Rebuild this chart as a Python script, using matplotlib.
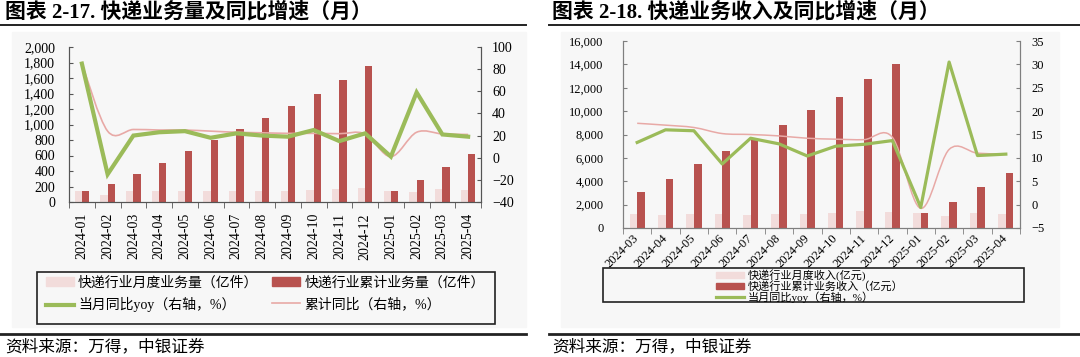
"""Express delivery volume / revenue by month with YoY growth (two panels)."""

import matplotlib.pyplot as plt
import numpy as np
from matplotlib.lines import Line2D
from matplotlib.patches import Patch, PathPatch, Rectangle
from matplotlib.path import Path
from matplotlib.ticker import FuncFormatter

plt.rcParams["font.family"] = ["Liberation Serif", "Noto Sans CJK SC"]

# ---- panel 1: business volume (亿件), YoY (%)
VOL_MONTHS = ["2024-01", "2024-02", "2024-03", "2024-04", "2024-05", "2024-06",
              "2024-07", "2024-08", "2024-09", "2024-10", "2024-11", "2024-12",
              "2025-01", "2025-02", "2025-03", "2025-04"]
VOL_MONTHLY = [147, 92, 137, 137, 148, 147, 147, 148, 148, 160, 172, 180, 143, 133, 172, 160]
VOL_CUMULATIVE = [147, 226, 366, 507, 658, 800, 946, 1088, 1239, 1398, 1574, 1750, 143, 284, 456, 615]
VOL_YOY = [85, -15, 20, 23, 24, 18, 22, 20, 19, 25, 15, 22, 1, 59, 21, 19]
VOL_CUM_YOY = [85, 24, 25.5, 25, 25, 24, 23, 22.5, 22, 22, 21.7, 21.5, 1, 23, 21.5, 21]

# ---- panel 2: business revenue (亿元), YoY (%)
REV_MONTHS = ["2024-03", "2024-04", "2024-05", "2024-06", "2024-07", "2024-08",
              "2024-09", "2024-10", "2024-11", "2024-12", "2025-01", "2025-02",
              "2025-03", "2025-04"]
REV_MONTHLY = [1183, 1127, 1183, 1183, 1127, 1183, 1211, 1268, 1465, 1380, 1268, 1014, 1268, 1183]
REV_CUMULATIVE = [3107, 4209, 5452, 6582, 7650, 8814, 10056, 11243, 12740, 14068, 1270, 2203, 3475, 4718]
REV_YOY = [13.3, 16.0, 15.8, 8.7, 14.2, 13.0, 10.4, 12.5, 12.9, 13.7, -0.6, 30.5, 10.5, 10.8]
REV_CUM_YOY = [17.4, 17.0, 16.5, 15.2, 15.0, 14.7, 14.2, 14.0, 13.9, 14.4, -0.8, 11.8, 11.0, 10.8]

RED = "#b8524f"
LIGHT = "#f2dcdb"
GREEN = "#9bbb59"
PINK = "#e8a9a6"
BG = "#f7f7f7"
INK = "#222222"

W, H = 1080, 357


def fbox(x0, y0, x1, y1):
    """Pixel box (top-left origin) -> figure-fraction rect."""
    return [x0 / W, 1 - y1 / H, (x1 - x0) / W, (y1 - y0) / H]


def smooth_line(ax, x, y, **kw):
    # Excel-style smoothed line: cubic Bezier segments through the data points
    pts = np.column_stack([x, y]).astype(float)
    n = len(pts)
    verts, codes = [pts[0]], [Path.MOVETO]
    for i in range(n - 1):
        p0, p1 = pts[max(i - 1, 0)], pts[i]
        p2, p3 = pts[i + 1], pts[min(i + 2, n - 1)]
        verts += [p1 + (p2 - p0) / 6, p2 - (p3 - p1) / 6, p2]
        codes += [Path.CURVE4] * 3
    ax.add_patch(PathPatch(Path(verts, codes), fill=False, **kw))


def style(ax, ax2, n, spine, size, lpad, rpad):
    ax.set_xlim(-0.5, n - 0.5)
    ax.set_xticks(np.arange(-0.5, n), minor=True)
    ax.tick_params(axis="x", which="major", length=0)
    ax.tick_params(axis="x", which="minor", length=4, direction="out", color=spine)
    ax.tick_params(axis="y", direction="in", length=3, color=spine, labelsize=size, pad=lpad)
    ax2.tick_params(axis="y", direction="in", length=3, color=spine, labelsize=size, pad=rpad)
    ax.patch.set_visible(False)
    for a in (ax, ax2):
        a.spines["top"].set_visible(False)
        for s in a.spines.values():
            s.set_color(spine)
    ax.yaxis.set_major_formatter(FuncFormatter(lambda v, _: f"{v:,.0f}"))


def draw_volume(fig):
    ax = fig.add_axes(fbox(69, 47, 481, 202))
    ax2 = ax.twinx()
    x = np.arange(len(VOL_MONTHS))
    w = 0.28
    ax.bar(x - w / 2, VOL_MONTHLY, w, color=LIGHT, linewidth=0)
    ax.bar(x + w / 2, VOL_CUMULATIVE, w, color=RED, linewidth=0)
    ax2.plot(x, VOL_YOY, color=GREEN, linewidth=3.0, solid_joinstyle="miter", zorder=3)
    smooth_line(ax2, x, VOL_CUM_YOY, edgecolor=PINK, linewidth=1.2, zorder=2)

    ax.set_ylim(0, 2000)
    ax.set_yticks(range(0, 2001, 200))
    ax2.set_ylim(-40, 100)
    ax2.set_yticks(range(-40, 101, 20))
    ax.set_xticks(x, VOL_MONTHS, rotation=90, fontsize=10)
    ax.tick_params(axis="x", which="major", pad=8)
    style(ax, ax2, len(x), "#555555", 10, 10, 8)

    handles = [
        Patch(color=LIGHT, label="快递行业月度业务量（亿件）"),
        Line2D([], [], color=GREEN, linewidth=3, label="当月同比yoy（右轴，%）"),
        Patch(color=RED, label="快递行业累计业务量（亿件）"),
        Line2D([], [], color=PINK, linewidth=1.2, label="累计同比（右轴，%）"),
    ]
    fig.legend(handles=handles, ncol=2, loc="upper left",
               bbox_to_anchor=(46 / W, 1 - 276 / H), frameon=False, fontsize=10,
               handlelength=2.0, handleheight=0.55, handletextpad=0.3,
               columnspacing=1.0, labelspacing=0.55, borderpad=0, borderaxespad=0)
    fig.add_artist(Rectangle((37 / W, 1 - 324 / H), 458 / W, 52 / H,
                             transform=fig.transFigure, fill=False,
                             edgecolor=INK, linewidth=1.2))


def draw_revenue(fig):
    ax = fig.add_axes(fbox(623, 41, 1020, 228))
    ax2 = ax.twinx()
    x = np.arange(len(REV_MONTHS))
    w = 0.27
    ax.bar(x - w / 2, REV_MONTHLY, w, color=LIGHT, linewidth=0)
    ax.bar(x + w / 2, REV_CUMULATIVE, w, color=RED, linewidth=0)
    smooth_line(ax2, x, REV_CUM_YOY, edgecolor=PINK, linewidth=1.1, zorder=2)
    ax2.plot(x, REV_YOY, color=GREEN, linewidth=2.3, zorder=3)

    ax.set_ylim(0, 16000)
    ax.set_yticks(range(0, 16001, 2000))
    ax2.set_ylim(-5, 35)
    ax2.set_yticks(range(-5, 36, 5))
    ax.set_xticks(x, REV_MONTHS, fontsize=9)
    for lbl in ax.get_xticklabels():
        lbl.set_rotation(45)
        lbl.set_ha("right")
        lbl.set_va("center")
        lbl.set_rotation_mode("anchor")
    ax.tick_params(axis="x", which="major", pad=6)
    style(ax, ax2, len(x), "#7f7f7f", 9, 14, 8)

    handles = [
        Patch(color=LIGHT, label="快递行业月度收入(亿元)"),
        Patch(color=RED, label="快递行业累计业务收入（亿元）"),
        Line2D([], [], color=GREEN, linewidth=2.3, label="当月同比yoy（右轴，%）"),
    ]
    fig.legend(handles=handles, loc="upper left", bbox_to_anchor=(716 / W, 1 - 269.5 / H),
               frameon=False, fontsize=8.0, handlelength=2.5, handleheight=0.5,
               handletextpad=0.35, labelspacing=-0.05, borderpad=0, borderaxespad=0)
    fig.add_artist(Rectangle((603 / W, 1 - 302 / H), 421 / W, 34 / H,
                             transform=fig.transFigure, fill=False,
                             edgecolor=INK, linewidth=1.2))


def frame(fig, x0, x1, bg0, bg1, title, tx):
    fig.add_artist(Rectangle((bg0 / W, 1 - 327 / H), (bg1 - bg0) / W, 295 / H,
                             transform=fig.transFigure, color=BG, zorder=-1))
    fig.text(tx / W, 1 - 12 / H, title, fontsize=15, fontweight="bold", va="center")
    fig.add_artist(Line2D([x0 / W, x1 / W], [1 - 25 / H] * 2,
                          transform=fig.transFigure, color=INK, linewidth=1.4))
    fig.add_artist(Line2D([x0 / W, x1 / W], [1 - 334 / H] * 2,
                          transform=fig.transFigure, color=INK, linewidth=2.0))
    fig.text(tx / W, 1 - 347 / H, "资料来源：万得，中银证券", fontsize=12,
             style="italic", va="center")


def main():
    fig = plt.figure(figsize=(W / 100, H / 100), dpi=100)
    frame(fig, 0, 526, 12, 526, "图表 2-17. 快递业务量及同比增速（月）", 5)
    frame(fig, 549, 1080, 561, 1059, "图表 2-18. 快递业务收入及同比增速（月）", 552)
    draw_volume(fig)
    draw_revenue(fig)
    fig.savefig("out.png", dpi=100, facecolor="white")
    plt.close(fig)


if __name__ == "__main__":
    main()
